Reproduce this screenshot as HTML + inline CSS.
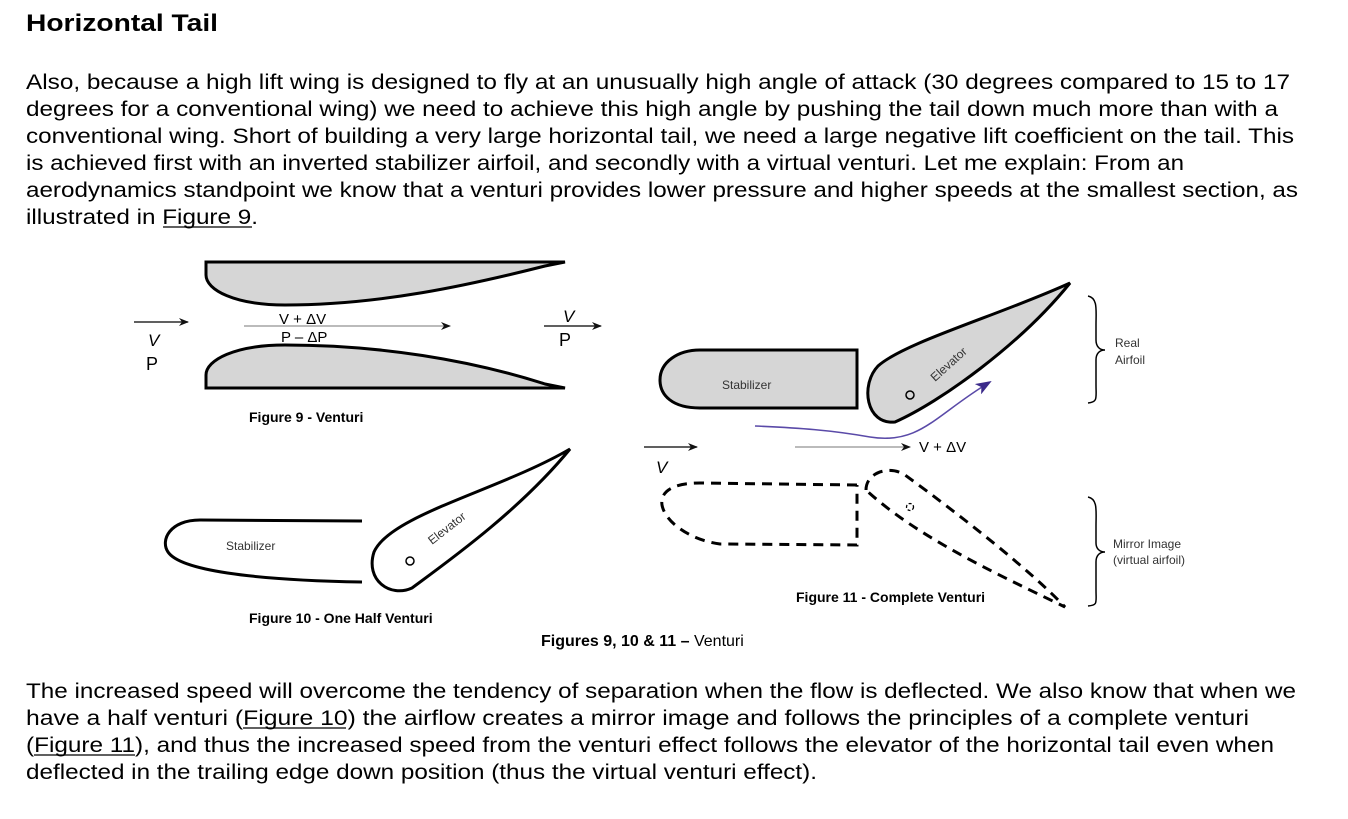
<!DOCTYPE html>
<html><head><meta charset="utf-8"><style>
html,body{margin:0;padding:0;background:#fff;}
svg{display:block;}
text{font-family:"Liberation Sans",Arial,sans-serif;}
</style></head><body>
<svg width="1348" height="819" viewBox="0 0 1348 819" xmlns="http://www.w3.org/2000/svg">
<defs>
<marker id="ah" markerWidth="10" markerHeight="8" refX="9" refY="4" orient="auto" markerUnits="userSpaceOnUse"><path d="M0,0 L10,4 L0,8 L3,4 z" fill="#111"/></marker>
<marker id="ahp" markerWidth="16" markerHeight="12" refX="14" refY="6" orient="auto" markerUnits="userSpaceOnUse"><path d="M0,0 L16,6 L0,12 L4,6 z" fill="#3b2a8a"/></marker>
</defs>
<text x="26" y="31" font-size="24" font-weight="bold" textLength="192" lengthAdjust="spacingAndGlyphs">Horizontal Tail</text>
<g font-size="21" fill="#000">
<text x="26" y="89" textLength="1264" lengthAdjust="spacingAndGlyphs">Also, because a high lift wing is designed to fly at an unusually high angle of attack (30 degrees compared to 15 to 17</text>
<text x="26" y="116" textLength="1252" lengthAdjust="spacingAndGlyphs">degrees for a conventional wing) we need to achieve this high angle by pushing the tail down much more than with a</text>
<text x="26" y="143" textLength="1268" lengthAdjust="spacingAndGlyphs">conventional wing. Short of building a very large horizontal tail, we need a large negative lift coefficient on the tail. This</text>
<text x="26" y="170" textLength="1158" lengthAdjust="spacingAndGlyphs">is achieved first with an inverted stabilizer airfoil, and secondly with a virtual venturi. Let me explain: From an</text>
<text x="26" y="197" textLength="1272" lengthAdjust="spacingAndGlyphs">aerodynamics standpoint we know that a venturi provides lower pressure and higher speeds at the smallest section, as</text>
<text x="26" y="224" textLength="232" lengthAdjust="spacingAndGlyphs">illustrated in Figure 9.</text>
<text x="26" y="698" textLength="1270" lengthAdjust="spacingAndGlyphs">The increased speed will overcome the tendency of separation when the flow is deflected. We also know that when we</text>
<text x="26" y="725" textLength="1223" lengthAdjust="spacingAndGlyphs">have a half venturi (Figure 10) the airflow creates a mirror image and follows the principles of a complete venturi</text>
<text x="26" y="752" textLength="1248" lengthAdjust="spacingAndGlyphs">(Figure 11), and thus the increased speed from the venturi effect follows the elevator of the horizontal tail even when</text>
<text x="26" y="779" textLength="791" lengthAdjust="spacingAndGlyphs">deflected in the trailing edge down position (thus the virtual venturi effect).</text>
</g>
<line x1="163" y1="227" x2="252" y2="227" stroke="#000" stroke-width="1.3"/>
<line x1="243" y1="728" x2="346" y2="728" stroke="#000" stroke-width="1.3"/>
<line x1="34" y1="755" x2="135" y2="755" stroke="#000" stroke-width="1.3"/>

<!-- Figure 9 -->
<path d="M206,262 L565,262 L545,266 C470,285 380,305 285,305 C235,305 206,290 206,275 Z" fill="#d6d6d6" stroke="#000" stroke-width="3"/>
<path d="M206,388 L565,388 L545,384 C470,360 380,345 285,345 C235,345 206,360 206,375 Z" fill="#d6d6d6" stroke="#000" stroke-width="3"/>
<line x1="134" y1="322" x2="188" y2="322" stroke="#000" stroke-width="1.3" marker-end="url(#ah)"/>
<line x1="244" y1="326" x2="450" y2="326" stroke="#777" stroke-width="1" marker-end="url(#ah)"/>
<line x1="544" y1="326" x2="601" y2="326" stroke="#000" stroke-width="1.3" marker-end="url(#ah)"/>
<text x="148" y="346" font-size="17" font-style="italic">V</text>
<text x="146" y="370" font-size="18">P</text>
<text x="279" y="324" font-size="15">V + ΔV</text>
<text x="281" y="342" font-size="15">P – ΔP</text>
<text x="563" y="322" font-size="17" font-style="italic">V</text>
<text x="559" y="346" font-size="18">P</text>
<text x="249" y="422" font-size="14" font-weight="bold">Figure 9 - Venturi</text>

<!-- Figure 10 -->
<path d="M362,521 L200,520 C170,520 160,540 168,552 C180,570 250,580 362,582" fill="none" stroke="#000" stroke-width="3"/>
<path d="M570,449 C500,490 390,515 374,552 C365,580 390,598 412,588 C450,560 520,510 570,449 Z" fill="none" stroke="#000" stroke-width="3"/>
<circle cx="410" cy="561" r="4" fill="none" stroke="#000" stroke-width="1.5"/>
<text x="226" y="550" font-size="12" fill="#333">Stabilizer</text>
<text x="432" y="545" font-size="12" fill="#333" transform="rotate(-38 432 545)">Elevator</text>
<text x="249" y="623" font-size="14" font-weight="bold">Figure 10 - One Half Venturi</text>

<text x="541" y="646" font-size="16"><tspan font-weight="bold">Figures 9, 10 &amp; 11 –</tspan> Venturi</text>

<!-- Figure 11 -->
<path d="M700,350 L857,350 L857,408 L700,408 C672,408 660,395 660,380 C660,362 678,350 700,350 Z" fill="#d6d6d6" stroke="#000" stroke-width="3"/>
<path d="M1070,283 C1000,315 905,342 878,366 C860,385 866,425 895,422 C940,402 1020,345 1070,283 Z" fill="#d6d6d6" stroke="#000" stroke-width="3"/>
<circle cx="910" cy="395" r="4" fill="none" stroke="#000" stroke-width="1.5"/>
<text x="722" y="389" font-size="12" fill="#333">Stabilizer</text>
<text x="935" y="382" font-size="12" fill="#333" transform="rotate(-42 935 382)">Elevator</text>
<path d="M755,426 C800,428 830,430 870,437 C920,445 935,415 990,382" fill="none" stroke="#5a4aa8" stroke-width="1.6" marker-end="url(#ahp)"/>
<line x1="644" y1="447" x2="697" y2="447" stroke="#000" stroke-width="1.3" marker-end="url(#ah)"/>
<line x1="795" y1="447" x2="910" y2="447" stroke="#777" stroke-width="1" marker-end="url(#ah)"/>
<text x="919" y="452" font-size="15">V + ΔV</text>
<text x="656" y="473" font-size="17" font-style="italic">V</text>
<path d="M857,485 L700,483 C672,483 660,492 662,505 C665,522 690,540 720,544 L857,545 L857,485" fill="none" stroke="#000" stroke-width="3" stroke-dasharray="10,7"/>
<path d="M866,490 C866,472 890,465 905,475 C960,515 1030,570 1065,607 C1010,580 920,540 866,490" fill="none" stroke="#000" stroke-width="3" stroke-dasharray="10,7"/>
<circle cx="910" cy="507" r="3.5" fill="none" stroke="#000" stroke-width="1.3" stroke-dasharray="3,2"/>
<text x="796" y="602" font-size="14" font-weight="bold">Figure 11 - Complete Venturi</text>

<!-- braces -->
<path d="M1088,296 C1098,298 1096,310 1096,325 L1096,340 C1096,347 1100,350 1105,350 C1100,350 1096,353 1096,360 L1096,385 C1096,398 1098,402 1088,403" fill="none" stroke="#000" stroke-width="1.5"/>
<path d="M1088,497 C1098,499 1096,511 1096,526 L1096,543 C1096,549 1100,552 1105,552 C1100,552 1096,555 1096,562 L1096,590 C1096,603 1098,605 1088,606" fill="none" stroke="#000" stroke-width="1.5"/>
<text x="1115" y="347" font-size="12" fill="#333">Real</text>
<text x="1115" y="364" font-size="12" fill="#333">Airfoil</text>
<text x="1113" y="548" font-size="12" fill="#333">Mirror Image</text>
<text x="1113" y="564" font-size="12" fill="#333">(virtual airfoil)</text>
</svg>
</body></html>
